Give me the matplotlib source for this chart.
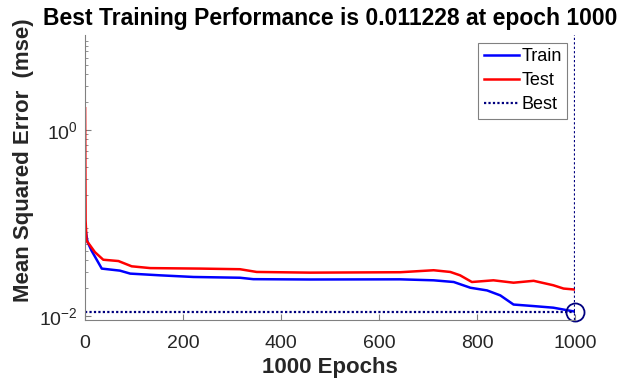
import numpy as np
import matplotlib.pyplot as plt
from matplotlib.ticker import FixedLocator, LogLocator, LogFormatterSciNotation, NullFormatter

plt.rcParams['font.family'] = ['Liberation Sans', 'DejaVu Sans']

# values (epoch, mse)
train_epochs = [0, 5, 13, 34, 71, 92, 153, 221, 316, 343, 459, 643, 711, 752, 786,
                820, 847, 874, 915, 955, 1000]
train_mse = [0.091, 0.063, 0.051, 0.0326, 0.031, 0.0288, 0.0276, 0.0265, 0.026, 0.0251,
             0.0249, 0.025, 0.0244, 0.0234, 0.0203, 0.019, 0.0168, 0.0134, 0.0129,
             0.0124, 0.011228]

test_epochs = [0, 1, 3, 10, 20, 37, 68, 95, 133, 235, 316, 350, 459, 643, 711, 745,
               765, 789, 833, 874, 915, 955, 976, 1000]
test_mse = [1.72, 0.108, 0.065, 0.058, 0.049, 0.0406, 0.0393, 0.0345, 0.033, 0.0326,
            0.0321, 0.030, 0.0295, 0.0298, 0.0313, 0.030, 0.0276, 0.0234, 0.0244,
            0.023, 0.0241, 0.0216, 0.0199, 0.0194]

best_epoch = 1000
best_mse = 0.011228

fig = plt.figure(figsize=(6.35, 3.9), dpi=100)
ax = fig.add_axes([0.134, 0.179, 0.772, 0.731])

ax.plot(train_epochs, train_mse, color='#0000ff', lw=1.8, label='Train')
ax.plot(test_epochs, test_mse, color='#ff0000', lw=1.8, label='Test')
ax.axhline(best_mse, color='#00007f', lw=1.6, ls=(0, (1, 1)), label='Best')
ax.axvline(best_epoch, color='#00007f', lw=1.6, ls=(0, (1, 1)))
ax.plot([best_epoch], [best_mse], 'o', mfc='none', mec='#00007f', ms=13, mew=1.3,
        clip_on=False)

ax.set_yscale('log')
ax.set_xlim(0, 1000)
ax.set_ylim(0.0091, 10.5)
ax.set_xticks([0, 200, 400, 600, 800, 1000])
ax.yaxis.set_major_locator(FixedLocator([1e-2, 1e0]))
ax.yaxis.set_major_formatter(LogFormatterSciNotation())
ax.yaxis.set_minor_locator(LogLocator(base=10, subs=np.arange(2, 10), numticks=20))
ax.yaxis.set_minor_formatter(NullFormatter())

for s in ['top', 'right']:
    ax.spines[s].set_visible(False)
for s in ['left', 'bottom']:
    ax.spines[s].set_color('#808080')
ax.tick_params(direction='in', colors='#808080', labelcolor='#262626', labelsize=14)
ax.tick_params(which='minor', direction='in', colors='#808080', length=2.5)
ax.tick_params(which='major', length=4)
ax.tick_params(axis='x', pad=10.5)
ax.tick_params(axis='y', pad=5)

ax.set_title('Best Training Performance is 0.011228 at epoch 1000',
             fontsize=16.5, fontweight='bold', pad=7)
ax.set_xlabel('1000 Epochs', fontsize=16, fontweight='bold', color='#262626', labelpad=4)
ax.set_ylabel('Mean Squared Error  (mse)', fontsize=16, fontweight='bold', color='#262626')
ax.yaxis.set_label_coords(-0.104, 0.56)

leg = ax.legend(loc='upper right', bbox_to_anchor=(0.984, 0.972), fontsize=13, fancybox=False,
                framealpha=1, edgecolor='#808080', handlelength=1.95, handletextpad=0.15,
                borderpad=0.3, labelspacing=0.38, borderaxespad=0)
leg.get_frame().set_linewidth(0.8)

fig.savefig('out.png', dpi=100)
